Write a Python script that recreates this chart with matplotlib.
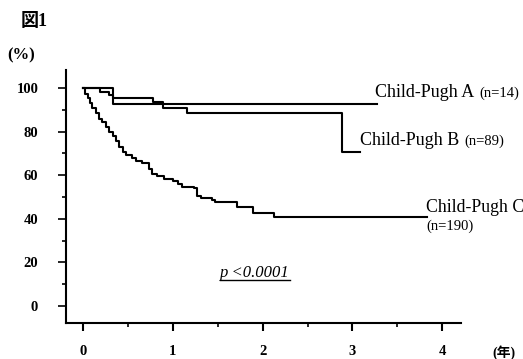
import numpy as np
import matplotlib
matplotlib.use("Agg")
import matplotlib.pyplot as plt
from matplotlib.ticker import MultipleLocator

plt.rcParams["font.family"] = ["Liberation Serif", "Noto Sans CJK JP"]

# Kaplan-Meier step data (years, survival %)
t_a = [0.0, 0.33, 3.27]
s_a = [100, 92.9, 92.9]

t_b = [0.0, 0.19, 0.29, 0.33, 0.78, 0.89, 1.16, 2.88, 3.09]
s_b = [100, 98.3, 96.6, 95.4, 93.7, 91.0, 88.4, 70.6, 70.6]

t_c = [0.0, 0.02, 0.05, 0.08, 0.10, 0.14, 0.18, 0.21, 0.25, 0.29, 0.33, 0.37,
       0.40, 0.44, 0.48, 0.54, 0.59, 0.66, 0.73, 0.77, 0.82, 0.90, 1.00, 1.06,
       1.10, 1.24, 1.27, 1.31, 1.44, 1.47, 1.71, 1.89, 2.13, 3.83]
s_c = [100, 97.5, 95.5, 93.0, 91.0, 88.5, 86.0, 84.5, 82.0, 80.0, 78.0, 75.5,
       73.0, 70.5, 69.3, 68.0, 66.5, 65.5, 63.0, 60.5, 59.5, 58.2, 57.3, 55.8,
       54.8, 54.0, 50.5, 49.5, 48.6, 47.8, 45.5, 42.8, 40.7, 40.7]

x_ticks = [0, 1, 2, 3, 4]
y_ticks = [0, 20, 40, 60, 80, 100]

fig = plt.figure(figsize=(5.23, 3.59), dpi=100)
ax = fig.add_axes([0.1262, 0.1003, 0.7553, 0.7047])

for t, s in [(t_a, s_a), (t_b, s_b), (t_c, s_c)]:
    ax.plot(t, s, drawstyle="steps-post", color="black", lw=1.5)

ax.set_xlim(-0.19, 4.21)
ax.set_ylim(-7.8, 108.3)
ax.spines["top"].set_visible(False)
ax.spines["right"].set_visible(False)
ax.spines["left"].set_linewidth(1.5)
ax.spines["bottom"].set_linewidth(1.5)

ax.set_xticks(x_ticks)
ax.set_yticks(y_ticks)
ax.xaxis.set_minor_locator(MultipleLocator(0.5))
ax.yaxis.set_minor_locator(MultipleLocator(10))
ax.tick_params(axis="x", which="major", length=6, width=1.5, pad=10, labelsize=10.5)
ax.tick_params(axis="x", which="minor", length=3, width=1.2)
ax.tick_params(axis="y", which="major", length=6, width=1.2, pad=14, labelsize=10.5)
ax.tick_params(axis="y", which="minor", length=3, width=1.2)
for lab in ax.get_xticklabels() + ax.get_yticklabels():
    lab.set_fontweight("bold")

ax.text(3.25, 96.0, "Child-Pugh A", fontsize=13, va="baseline")
ax.text(4.41, 96.0, "(n=14)", fontsize=10.5, va="baseline")
ax.text(3.08, 73.9, "Child-Pugh B", fontsize=13, va="baseline")
ax.text(4.25, 73.9, "(n=89)", fontsize=10.5, va="baseline")
ax.text(3.82, 43.3, "Child-Pugh C", fontsize=12.8, va="baseline")
ax.text(3.82, 34.9, "(n=190)", fontsize=10.5, va="baseline")
ptxt = ax.text(1.53, 13.3, "p <0.0001", fontsize=12, style="italic", va="baseline")

fig.text(0.040, 0.940, "図1", fontsize=13, fontweight="bold", va="center")
fig.text(0.014, 0.845, "(%)", fontsize=12, fontweight="bold", va="center")
fig.text(0.942, 0.018, "(年)", fontsize=10, fontweight="bold", va="center")

# underline under the p-value
fig.canvas.draw()
bb = ptxt.get_window_extent().transformed(fig.transFigure.inverted())
fig.add_artist(plt.Line2D([bb.x0, bb.x1], [bb.y0 + 0.002, bb.y0 + 0.002],
                          color="black", lw=1.0, transform=fig.transFigure))

plt.savefig("out.png", dpi=100)
